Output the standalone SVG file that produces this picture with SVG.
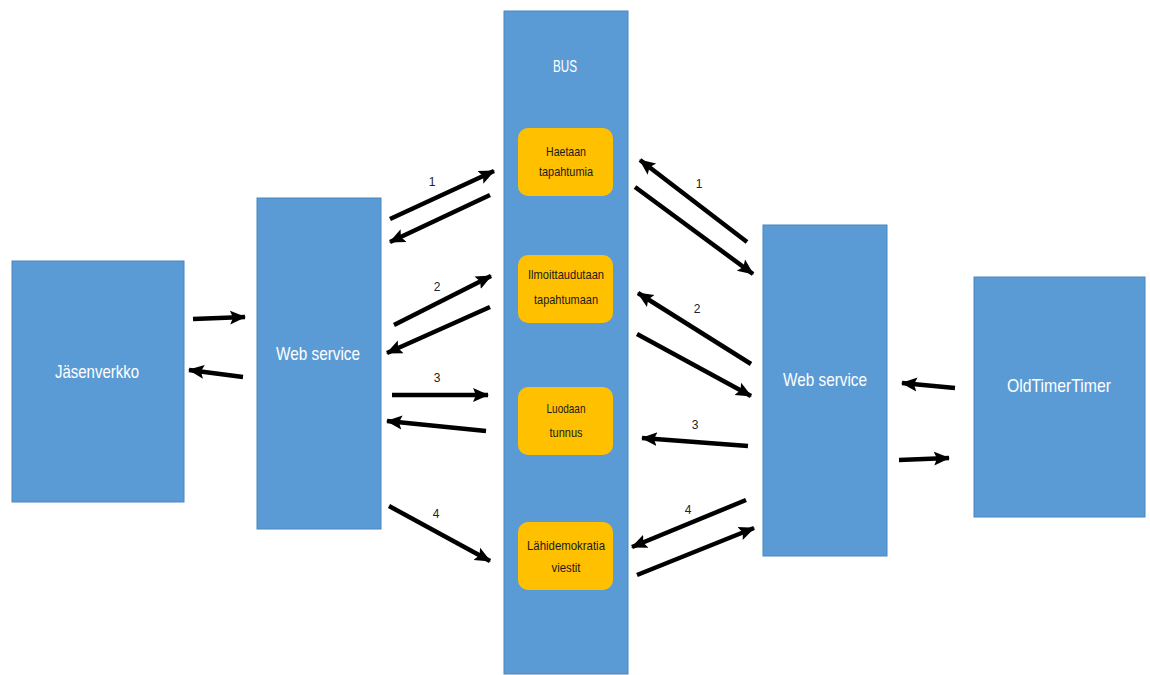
<svg xmlns="http://www.w3.org/2000/svg" width="1150" height="675" viewBox="0 0 1150 675">
  <style>
    .box { fill: #5b9bd5; stroke: #4a86be; stroke-width: 1; }
    .step { fill: #ffc000; }
    .big { font-family: "Liberation Sans", Arial, sans-serif; font-size: 19px; fill: #ffffff; text-anchor: middle; }
    .small { font-family: "Liberation Sans", Arial, sans-serif; font-size: 13px; fill: #1a1a1a; text-anchor: middle; }
    .num { font-family: "Liberation Sans", Arial, sans-serif; font-size: 12px; fill: #222222; text-anchor: middle; }
    .arrow { stroke: #000000; stroke-width: 4.5; fill: none; marker-end: url(#head); }
  </style>
  <defs>
    <marker id="head" markerUnits="userSpaceOnUse" markerWidth="18" markerHeight="18" viewBox="0 0 18 18" refX="15" refY="9" orient="auto">
      <path d="M0,2 L16,9 L0,16 L3,9 Z" fill="#000000"/>
    </marker>
  </defs>

  <rect width="1150" height="675" fill="#ffffff"/>

  <g id="jasenverkko">
    <rect class="box" x="12" y="261" width="172" height="241"/>
    <text class="big" x="97" y="378" textLength="84" lengthAdjust="spacingAndGlyphs">Jäsenverkko</text>
  </g>

  <g id="web-service-left">
    <rect class="box" x="257" y="198" width="124" height="331"/>
    <text class="big" x="318" y="360" textLength="84" lengthAdjust="spacingAndGlyphs">Web service</text>
  </g>

  <g id="bus">
    <rect class="box" x="504" y="11" width="124" height="663"/>
    <text class="big" x="565" y="72" style="font-size:16px" textLength="24" lengthAdjust="spacingAndGlyphs">BUS</text>
  </g>

  <g id="step-haetaan">
    <rect class="step" x="518" y="128" width="95" height="68" rx="10"/>
    <text class="small" x="566" y="156" textLength="40" lengthAdjust="spacingAndGlyphs">Haetaan</text>
    <text class="small" x="566" y="176" textLength="54" lengthAdjust="spacingAndGlyphs">tapahtumia</text>
  </g>

  <g id="step-ilmoittaudutaan">
    <rect class="step" x="518" y="255" width="95" height="68" rx="10"/>
    <text class="small" x="566" y="279" textLength="76" lengthAdjust="spacingAndGlyphs">Ilmoittaudutaan</text>
    <text class="small" x="566" y="304" textLength="64" lengthAdjust="spacingAndGlyphs">tapahtumaan</text>
  </g>

  <g id="step-luodaan">
    <rect class="step" x="518" y="387" width="95" height="68" rx="10"/>
    <text class="small" x="566" y="413" textLength="39" lengthAdjust="spacingAndGlyphs">Luodaan</text>
    <text class="small" x="566" y="437" textLength="33" lengthAdjust="spacingAndGlyphs">tunnus</text>
  </g>

  <g id="step-lahidemokratia">
    <rect class="step" x="518" y="522" width="95" height="68" rx="10"/>
    <text class="small" x="566" y="550" textLength="78" lengthAdjust="spacingAndGlyphs">Lähidemokratia</text>
    <text class="small" x="566" y="572" textLength="29" lengthAdjust="spacingAndGlyphs">viestit</text>
  </g>

  <g id="web-service-right">
    <rect class="box" x="763" y="225" width="124" height="331"/>
    <text class="big" x="825" y="386" textLength="84" lengthAdjust="spacingAndGlyphs">Web service</text>
  </g>

  <g id="oldtimertimer">
    <rect class="box" x="974" y="277" width="171" height="240"/>
    <text class="big" x="1059" y="392" textLength="104" lengthAdjust="spacingAndGlyphs">OldTimerTimer</text>
  </g>

  <g id="connectors">
    <!-- Jäsenverkko <-> left web service -->
    <line class="arrow" x1="193" y1="319" x2="245" y2="317"/>
    <line class="arrow" x1="243" y1="377" x2="189" y2="370"/>

    <!-- left web service <-> bus -->
    <line class="arrow" x1="390" y1="219" x2="494" y2="171"/>
    <line class="arrow" x1="490" y1="195" x2="390" y2="242"/>
    <text class="num" x="432" y="186">1</text>

    <line class="arrow" x1="394" y1="325" x2="491" y2="276"/>
    <line class="arrow" x1="490" y1="307" x2="387" y2="353"/>
    <text class="num" x="437" y="291">2</text>

    <line class="arrow" x1="392" y1="395" x2="488" y2="395"/>
    <line class="arrow" x1="486" y1="431" x2="387" y2="421"/>
    <text class="num" x="437" y="382">3</text>

    <line class="arrow" x1="389" y1="506" x2="490" y2="561"/>
    <text class="num" x="436" y="518">4</text>

    <!-- bus <-> right web service -->
    <line class="arrow" x1="747" y1="242" x2="640" y2="160"/>
    <line class="arrow" x1="635" y1="187" x2="753" y2="274"/>
    <text class="num" x="699" y="188">1</text>

    <line class="arrow" x1="751" y1="364" x2="638" y2="293"/>
    <line class="arrow" x1="637" y1="334" x2="751" y2="396"/>
    <text class="num" x="697" y="313">2</text>

    <line class="arrow" x1="748" y1="446" x2="642" y2="438"/>
    <text class="num" x="695" y="429">3</text>

    <line class="arrow" x1="746" y1="500" x2="632" y2="547"/>
    <line class="arrow" x1="637" y1="575" x2="754" y2="528"/>
    <text class="num" x="688" y="514">4</text>

    <!-- right web service <-> OldTimerTimer -->
    <line class="arrow" x1="955" y1="388" x2="902" y2="383"/>
    <line class="arrow" x1="899" y1="460" x2="949" y2="458"/>
  </g>
</svg>
